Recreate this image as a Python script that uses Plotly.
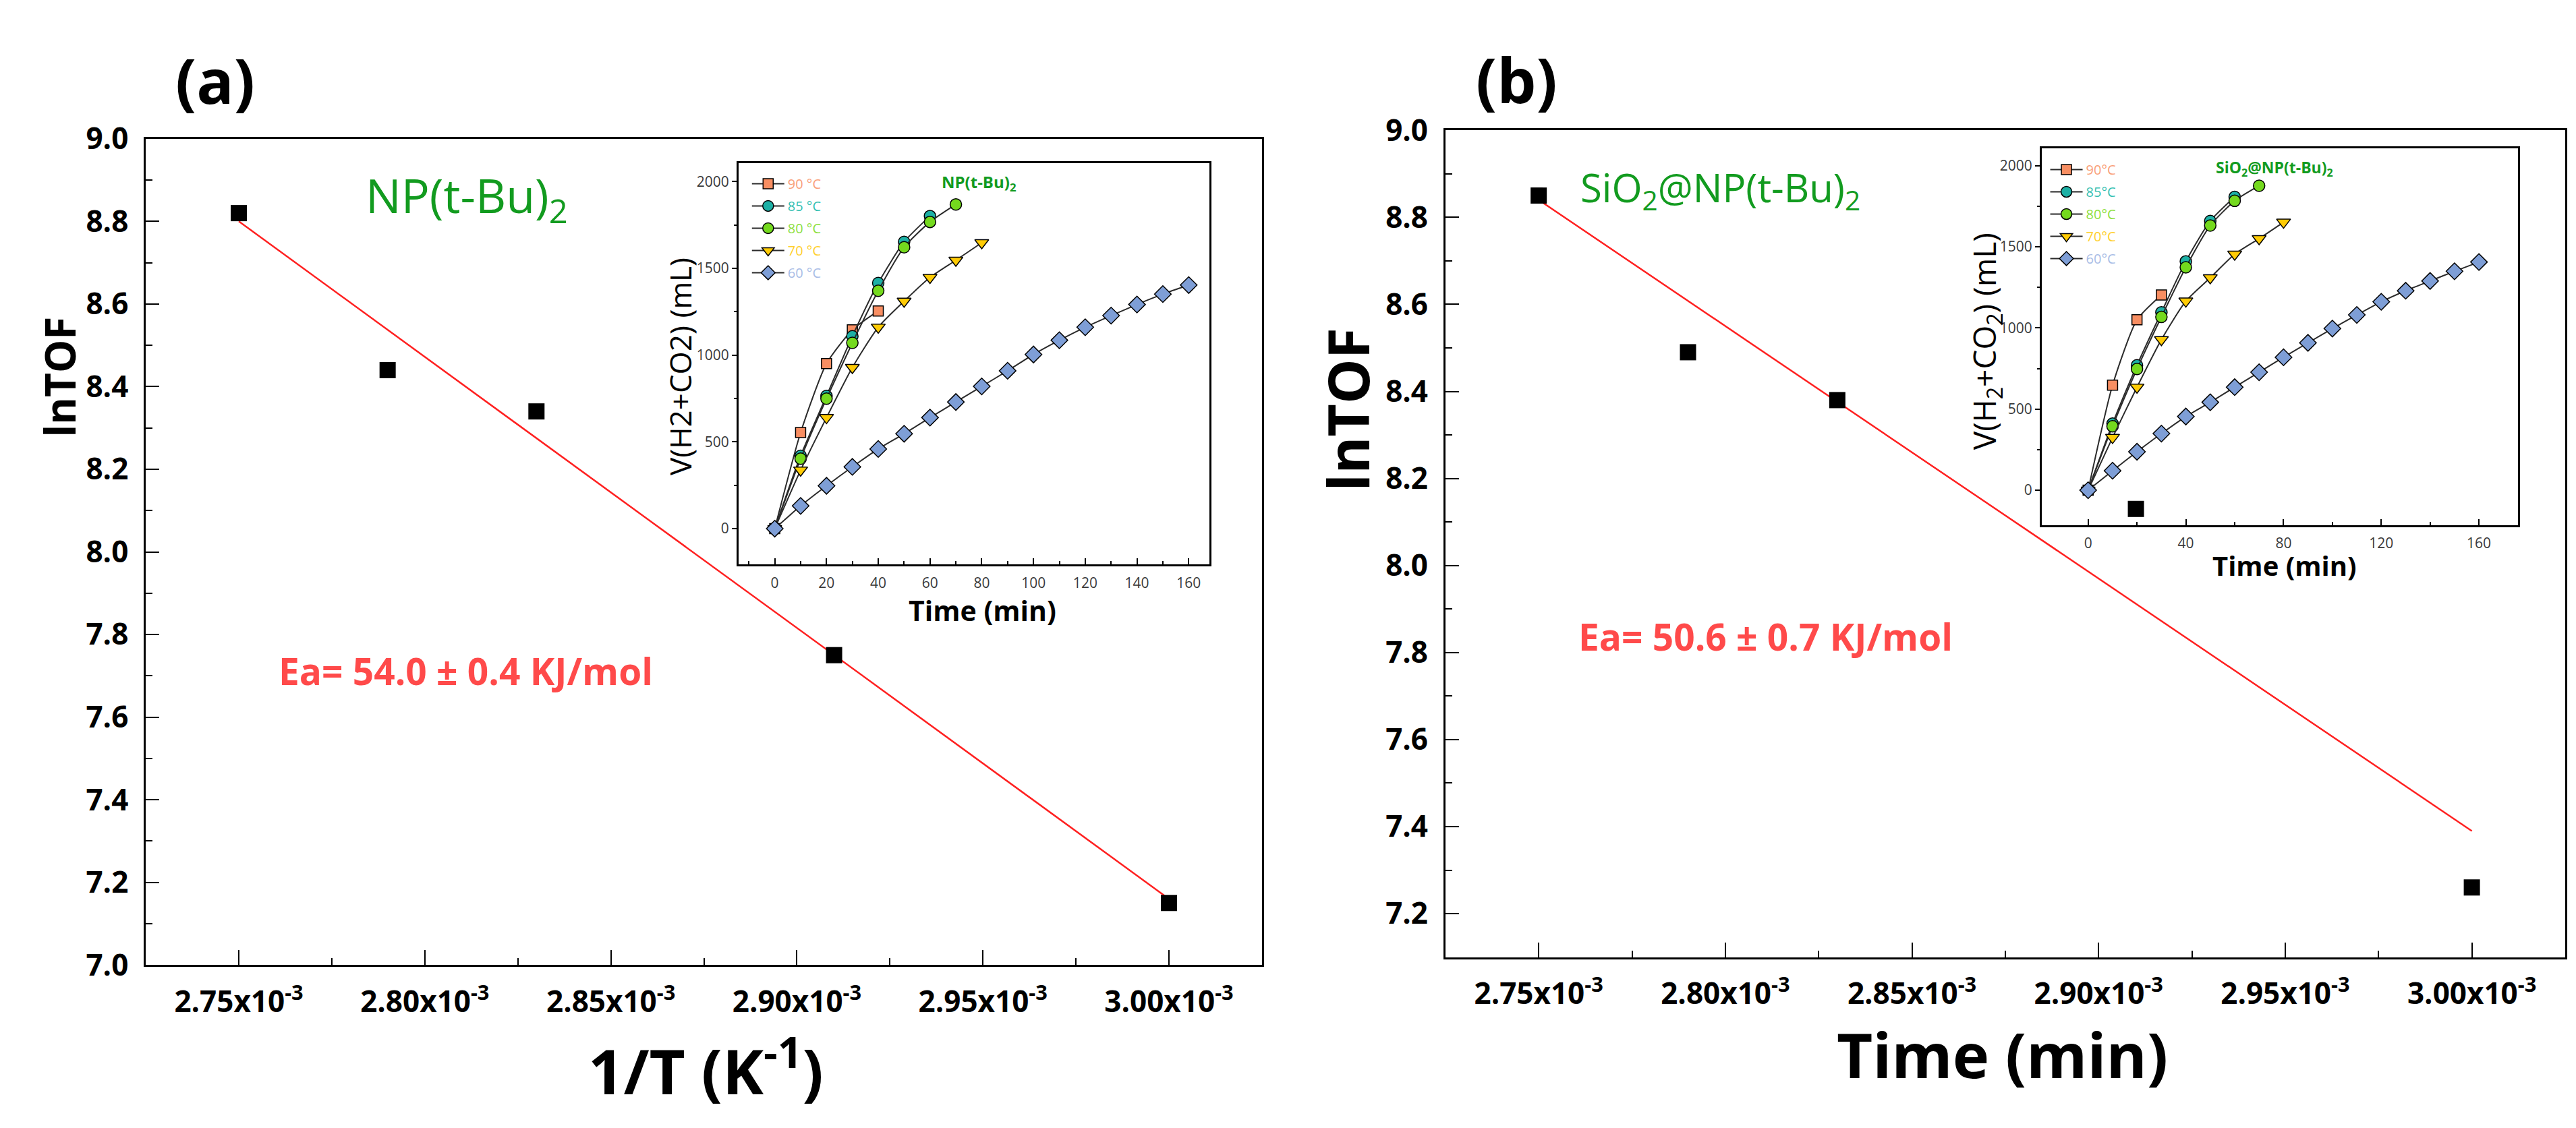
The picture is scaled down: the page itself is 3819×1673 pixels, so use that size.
import plotly.graph_objects as go

FONT = "Open Sans"

# main panels: lnTOF against 1/T
inv_t = [0.00275, 0.00279, 0.00283, 0.00291, 0.00300]
lntof_a = [8.82, 8.44, 8.34, 7.75, 7.15]
lntof_b = [8.85, 8.49, 8.38, 8.13, 7.26]

# ends of the red fit lines
fit_x = [0.00275, 0.00300]
fit_a = [8.80, 7.16]
fit_b = [8.84, 7.39]

inv_t_ticks = [0.00275, 0.00280, 0.00285, 0.00290, 0.00295, 0.00300]
inv_t_labels = ["2.75x10<sup>-3</sup>", "2.80x10<sup>-3</sup>", "2.85x10<sup>-3</sup>",
                "2.90x10<sup>-3</sup>", "2.95x10<sup>-3</sup>", "3.00x10<sup>-3</sup>"]
lntof_ticks_a = [7.0, 7.2, 7.4, 7.6, 7.8, 8.0, 8.2, 8.4, 8.6, 8.8, 9.0]
lntof_ticks_b = [7.2, 7.4, 7.6, 7.8, 8.0, 8.2, 8.4, 8.6, 8.8, 9.0]

# inset (a): NP(t-Bu)2, gas volume (mL) against time (min)
t_a90 = [0, 10, 20, 30, 40]
v_a90 = [0, 554, 951, 1146, 1255]
t_a85 = [0, 10, 20, 30, 40, 50, 60]
v_a85 = [0, 420, 765, 1109, 1416, 1653, 1802]
t_a80 = [0, 10, 20, 30, 40, 50, 60, 70]
v_a80 = [0, 403, 749, 1071, 1371, 1622, 1768, 1869]
t_a70 = [0, 10, 20, 30, 40, 50, 60, 70, 80]
v_a70 = [0, 337, 640, 929, 1161, 1311, 1448, 1547, 1648]
t_a60 = [0, 10, 20, 30, 40, 50, 60, 70, 80, 90, 100, 110, 120, 130, 140, 150, 160]
v_a60 = [0, 131, 247, 356, 459, 547, 640, 730, 820, 910, 1004, 1086, 1161, 1228, 1292, 1352, 1404]

# inset (b): SiO2@NP(t-Bu)2
t_b90 = [0, 10, 20, 30]
v_b90 = [0, 647, 1050, 1203]
t_b85 = [0, 10, 20, 30, 40, 50, 60]
v_b85 = [0, 410, 770, 1096, 1410, 1659, 1807]
t_b80 = [0, 10, 20, 30, 40, 50, 60, 70]
v_b80 = [0, 394, 747, 1068, 1373, 1631, 1783, 1876]
t_b70 = [0, 10, 20, 30, 40, 50, 60, 70, 80]
v_b70 = [0, 325, 635, 928, 1165, 1309, 1454, 1550, 1651]
t_b60 = [0, 10, 20, 30, 40, 50, 60, 70, 80, 90, 100, 110, 120, 130, 140, 150, 160]
v_b60 = [0, 120, 237, 349, 454, 542, 635, 727, 819, 908, 996, 1080, 1161, 1229, 1289, 1349, 1406]

temps = ["90", "85", "80", "70", "60"]
fills = ["#F88E62", "#1DB0A5", "#74D91E", "#FFCB05", "#7E9ED6"]
label_cols = ["#F9A07A", "#35BFB2", "#8EE040", "#FFD02E", "#A9BDE6"]
symbols = ["square", "circle", "circle", "triangle-down", "diamond"]
sizes = [15, 17, 17, 18, 19]

fig = go.Figure()

# panel (a)
fig.add_trace(go.Scatter(x=fit_x, y=fit_a, mode="lines", line=dict(color="#ff2020", width=2.5),
                         xaxis="x", yaxis="y", showlegend=False))
fig.add_trace(go.Scatter(x=inv_t, y=lntof_a, mode="markers",
                         marker=dict(symbol="square", size=24, color="black"),
                         xaxis="x", yaxis="y", showlegend=False))


def add_inset(series, xa, ya, leg, sep):
    for i, (t, v) in enumerate(series):
        name = f"<span style='color:{label_cols[i]}'>{temps[i]}{sep}°C</span>"
        fig.add_trace(go.Scatter(
            x=t, y=v, mode="lines+markers", name=name,
            line=dict(color="#2b2b2b", width=2, shape="spline", smoothing=0.6),
            marker=dict(symbol=symbols[i], size=sizes[i], color=fills[i],
                        line=dict(color="black", width=1.5)),
            xaxis=xa, yaxis=ya, legend=leg, legendgroup=leg + temps[i]))


add_inset([(t_a90, v_a90), (t_a85, v_a85), (t_a80, v_a80), (t_a70, v_a70), (t_a60, v_a60)],
          "x2", "y2", "legend", " ")
add_inset([(t_b90, v_b90), (t_b85, v_b85), (t_b80, v_b80), (t_b70, v_b70), (t_b60, v_b60)],
          "x3", "y3", "legend2", "")

# panel (b), added last so its points sit above inset (b)
fig.add_trace(go.Scatter(x=fit_x, y=fit_b, mode="lines", line=dict(color="#ff2020", width=2.5),
                         xaxis="x4", yaxis="y4", showlegend=False))
fig.add_trace(go.Scatter(x=inv_t, y=lntof_b, mode="markers",
                         marker=dict(symbol="square", size=24, color="black"),
                         xaxis="x4", yaxis="y4", showlegend=False))

tick_font = dict(family=FONT, size=44, color="black", weight="bold")


def main_x(domain, anchor):
    return dict(domain=domain, anchor=anchor, range=[0.002725, 0.003025],
                tickmode="array", tickvals=inv_t_ticks, ticktext=inv_t_labels,
                ticks="inside", ticklen=22, tickwidth=2, tickcolor="black",
                minor=dict(ticks="inside", ticklen=10, tickwidth=2, tickcolor="black",
                           tickmode="linear", tick0=0.00275, dtick=0.000025),
                showline=True, linewidth=3, linecolor="black", mirror=True,
                showgrid=False, zeroline=False, tickfont=tick_font, ticklabelstandoff=14)


def main_y(domain, anchor, rng, vals):
    return dict(domain=domain, anchor=anchor, range=rng,
                tickmode="array", tickvals=vals, ticktext=[f"{v:.1f}" for v in vals],
                ticks="inside", ticklen=20, tickwidth=2, tickcolor="black",
                minor=dict(ticks="inside", ticklen=10, tickwidth=2, tickcolor="black",
                           tickmode="linear", tick0=7.0, dtick=0.1),
                showline=True, linewidth=3, linecolor="black", mirror=True,
                showgrid=False, zeroline=False, tickfont=tick_font, ticklabelstandoff=14)


inset_font = dict(family=FONT, size=21, color="#3a3a3a")


def inset_x(domain, anchor, rng, step):
    return dict(domain=domain, anchor=anchor, range=rng, dtick=step, tick0=0,
                ticks="inside", ticklen=9, tickwidth=2, tickcolor="black",
                minor=dict(ticks="inside", ticklen=5, tickwidth=2, tickcolor="black", dtick=step / 2),
                showline=True, linewidth=3, linecolor="black", mirror=True,
                showgrid=False, zeroline=False, tickfont=inset_font, ticklabelstandoff=6)


def inset_y(domain, anchor, rng):
    return dict(domain=domain, anchor=anchor, range=rng, dtick=500, tick0=0,
                ticks="outside", ticklen=7, tickwidth=2, tickcolor="black",
                minor=dict(ticks="outside", ticklen=4, tickwidth=2, tickcolor="black", dtick=250),
                showline=True, linewidth=3, linecolor="black", mirror=True,
                showgrid=False, zeroline=False, tickfont=inset_font)


def legend_box(x, y):
    return dict(x=x, y=y, xanchor="left", yanchor="top", bgcolor="rgba(0,0,0,0)",
                font=dict(family=FONT, size=20), itemwidth=48, tracegroupgap=4,
                itemsizing="trace")


def note(text, x, y, size, color="black", bold=True, angle=0, xanchor="center"):
    return dict(text=text, x=x, y=y, xref="paper", yref="paper", showarrow=False,
                textangle=angle, xanchor=xanchor, yanchor="middle",
                font=dict(family=FONT, size=size, color=color, weight="bold" if bold else "normal"))


green = "#129B1F"
red = "#FF4A4A"

fig.update_layout(
    width=3819, height=1673,
    margin=dict(l=0, r=0, t=0, b=0),
    paper_bgcolor="white", plot_bgcolor="rgba(0,0,0,0)",
    xaxis=main_x([0.0545, 0.4878], "y"),
    yaxis=main_y([0.1375, 0.8972], "x", [7.0, 9.0], lntof_ticks_a),
    xaxis2=inset_x([0.2846, 0.4674], "y2", [-14, 168], 20),
    yaxis2=inset_y([0.5057, 0.8745], "x2", [-207, 2105]),
    xaxis3=inset_x([0.7905, 0.9754], "y3", [-19, 176], 40),
    yaxis3=inset_y([0.5421, 0.8882], "x3", [-214, 2105]),
    xaxis4=main_x([0.5590, 0.9937], "y4"),
    yaxis4=main_y([0.1447, 0.9050], "x4", [7.1, 9.0], lntof_ticks_b),
    legend=legend_box(0.2885, 0.868),
    legend2=legend_box(0.7925, 0.881),
    annotations=[
        note("(a)", 0.0814, 0.9516, 92),
        note("(b)", 0.5868, 0.9522, 92),
        note("lnTOF", 0.021, 0.678, 62, angle=-90),
        note("lnTOF", 0.521, 0.648, 84, angle=-90),
        note("1/T (K<sup>-1</sup>)", 0.272, 0.0436, 92),
        note("Time (min)", 0.7753, 0.0556, 92),
        note("NP(t-Bu)<sub>2</sub>", 0.1393, 0.8434, 70, color=green, bold=False, xanchor="left"),
        note("SiO<sub>2</sub>@NP(t-Bu)<sub>2</sub>", 0.6109, 0.8506, 58, color=green, bold=False,
             xanchor="left"),
        note("Ea= 54.0 ± 0.4 KJ/mol", 0.1055, 0.4083, 55, color=red, xanchor="left"),
        note("Ea= 50.6 ± 0.7 KJ/mol", 0.6101, 0.440, 55, color=red, xanchor="left"),
        # inset (a) labels
        note("NP(t-Bu)<sub>2</sub>", 0.3781, 0.8565, 24, color=green),
        note("Time (min)", 0.3794, 0.4638, 41),
        note("V(H2+CO2) (mL)", 0.2618, 0.688, 44, bold=False, angle=-90),
        # inset (b) labels
        note("SiO<sub>2</sub>@NP(t-Bu)<sub>2</sub>", 0.8809, 0.8703, 23, color=green),
        note("Time (min)", 0.8848, 0.505, 40),
        note("V(H<sub>2</sub>+CO<sub>2</sub>) (mL)", 0.7688, 0.711, 46, bold=False, angle=-90),
    ],
)

fig.write_html("out.html")
